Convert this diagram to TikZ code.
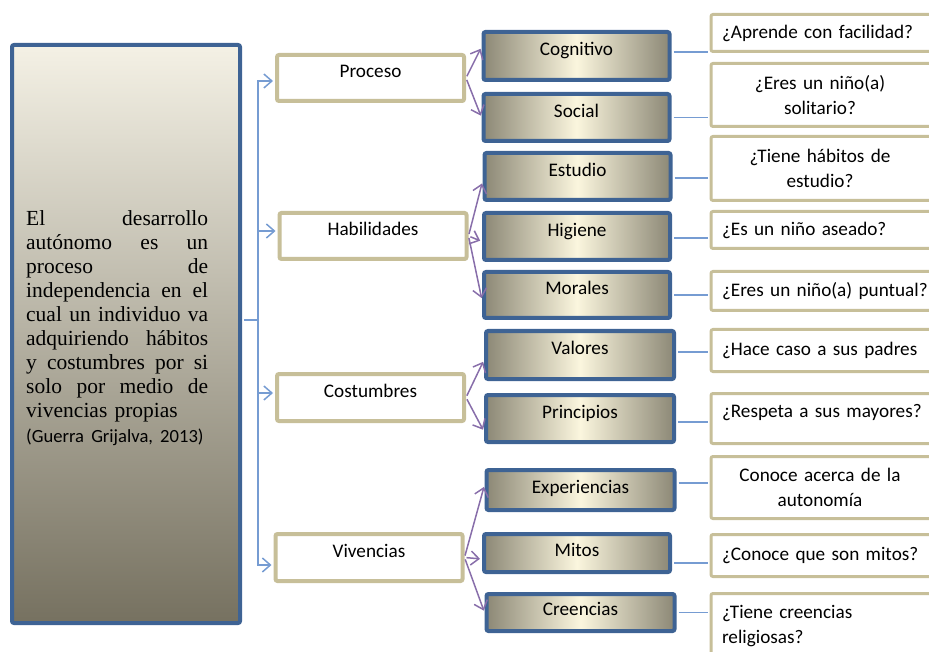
\documentclass[tikz,border=0pt]{standalone}
\usepackage{fontspec}
\setmainfont{Liberation Serif}
\newfontfamily\calibri{Carlito}
\usetikzlibrary{arrows.meta}
\definecolor{boxblue}{RGB}{62,99,148}
\definecolor{creamtop}{RGB}{244,241,229}
\definecolor{graybottom}{RGB}{118,113,96}
\definecolor{subcream}{RGB}{251,246,222}
\definecolor{subgray}{RGB}{140,136,118}
\definecolor{tanline}{RGB}{199,191,153}
\definecolor{linkblue}{RGB}{118,156,210}
\definecolor{linkpurple}{RGB}{136,110,170}
\newcommand{\ctr}[1]{\makebox[196pt]{#1}}

\begin{document}
\begin{tikzpicture}[x=1pt,y=-1pt,
  mainbox/.style={draw=boxblue,line width=4pt,rounded corners=2pt,top color=creamtop,bottom color=graybottom,minimum width=228pt,minimum height=578pt},
  deftext/.style={inner sep=0pt,text width=182pt,align=left,font=\fontsize{21.5}{24.1}\selectfont},
  topic/.style={draw=tanline,line width=4pt,fill=white,rounded corners=2pt,minimum width=187pt,minimum height=46pt,inner sep=0pt,text height=13pt,text depth=13pt,font=\calibri\fontsize{19.2}{23}\selectfont},
  sub/.style={draw=boxblue,line width=4pt,rounded corners=2pt,left color=subgray,right color=subgray,middle color=subcream,minimum width=186pt,minimum height=47pt,inner sep=0pt,text height=13pt,text depth=13pt,font=\calibri\fontsize{19.2}{23}\selectfont},
  quest/.style={draw=tanline,line width=3pt,fill=white,rounded corners=2pt,anchor=west,text width=225pt,inner xsep=11pt,align=left,font=\calibri\fontsize{19.2}{25.5}\selectfont},
  trunk/.style={draw=linkblue,line width=1.5pt},
  branch/.style={draw=linkpurple,line width=1.5pt,shorten <=2pt,shorten >=2pt,-{Straight Barb[length=8pt,width=14pt]}},
  qline/.style={draw=linkblue,line width=1.5pt,shorten <=2pt,shorten >=1.5pt}]
\clip (0,0) rectangle (929,652);
%
% left box
%
\node[mainbox] (lbox) at (126,334) {};
\node[deftext,anchor=north west] (def) at (26,210) {El\hfill desarrollo\\
autónomo\hfill es\hfill un\\
proceso\hfill de\\
independencia\hfill en\hfill el\\
cual\hfill un\hfill individuo\hfill va\\
adquiriendo\hfill hábitos\\
y\hfill costumbres\hfill por\hfill si\\
solo\hfill por\hfill medio\hfill de\\
vivencias propias\\
\mbox{\calibri\fontsize{18.6}{25}\selectfont (Guerra Grijalva, 2013)}};
%
% topics
%
\node[topic] (pro) at (370.5,78) {Proceso};
\node[topic] (hab) at (373,236) {Habilidades};
\node[topic,minimum height=47pt] (cos) at (370.5,397.5) {Costumbres};
\node[topic,minimum height=47pt] (viv) at (369,557.5) {Vivencias};
%
% sub topics
%
\node[sub,minimum height=48pt] (cog) at (576.5,56) {Cognitivo};
\node[sub] (soc) at (576.5,117.5) {Social};
\node[sub] (est) at (577.5,176.5) {Estudio};
\node[sub] (hig) at (577,236.5) {Higiene};
\node[sub,minimum height=46pt] (mor) at (577,295) {Morales};
\node[sub,minimum height=48pt,minimum width=188pt] (val) at (580,355) {Valores};
\node[sub,minimum width=188pt] (pri) at (580,418.5) {Principios};
\node[sub,minimum height=40pt,minimum width=188pt,text depth=7pt] (exp) at (580.5,490) {Experiencias};
\node[sub,minimum height=38pt,text depth=7pt] (mit) at (577,553) {Mitos};
\node[sub,minimum height=37pt,minimum width=188pt,text depth=7pt] (cre) at (580.5,612.5) {Creencias};
%
% questions
%
\node[quest,minimum height=37pt] (qcog) at (709.5,33) {¿Aprende con facilidad?};
\node[quest,minimum height=63pt] (qsoc) at (709.5,95) {\ctr{¿Eres un niño(a)}\\\ctr{solitario?}};
\node[quest,minimum height=64pt] (qest) at (709.5,168.5) {\ctr{¿Tiene hábitos de}\\\ctr{estudio?}};
\node[quest,minimum height=37pt] (qhig) at (709.5,230) {¿Es un niño aseado?};
\node[quest,minimum height=39pt] (qmor) at (709.5,291) {¿Eres un niño(a) puntual?};
\node[quest,minimum height=42pt] (qval) at (709.5,350.5) {¿Hace caso a sus padres};
\node[quest,minimum height=50pt,text depth=15pt] (qpri) at (709.5,418.5) {¿Respeta a sus mayores?};
\node[quest,minimum height=62pt] (qexp) at (709.5,487.5) {\ctr{Conoce acerca de la}\\\ctr{autonomía}};
\node[quest,minimum height=42pt] (qmit) at (709.5,555.5) {¿Conoce que son mitos?};
\node[quest,minimum height=65pt] (qcre) at (709.5,626) {¿Tiene creencias\\religiosas?};
%
% connectors
%
\coordinate (fork) at (258,320);
\draw[trunk,shorten <=2pt] ([yshift=14pt]lbox.east) -- (fork);
\foreach \n/\d in {pro/-3,hab/5,cos/4.5,viv/-7.5}
  \draw[trunk,shorten >=2pt,-{Straight Barb[length=8pt,width=14pt]}] (fork) |- ([yshift=\d pt]\n.west);
\foreach \a/\b/\d in {pro/cog/9,pro/soc/0,hab/est/-5,hab/hig/-5,hab/mor/-5,cos/val/-5,cos/pri/-13,viv/exp/5,viv/mit/-6,viv/cre/0}
  \draw[branch] (\a.east) -- ([yshift=\d pt]\b.west);
\foreach \n/\d in {cog/4,soc/0,est/-1.5,hig/-1.5,mor/0,val/3,pri/-3.5,exp/7,mit/-10,cre/0}
  \draw[qline] ([yshift=\d pt]\n.east) coordinate (s) -- (s -| q\n.west);
\end{tikzpicture}
\end{document}
